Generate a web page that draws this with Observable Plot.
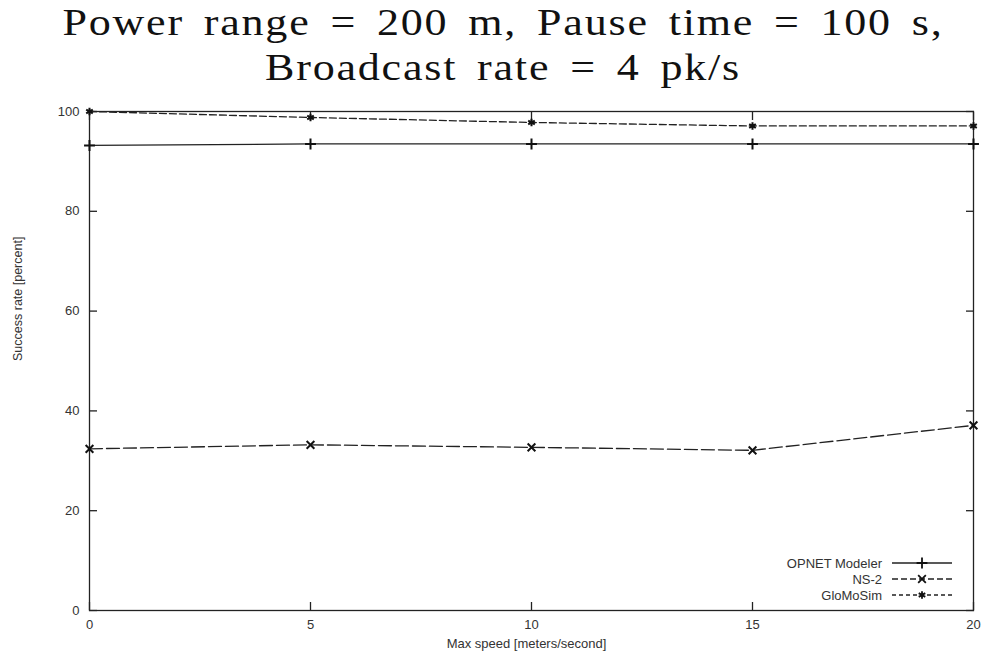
<!DOCTYPE html>
<html><head><meta charset="utf-8">
<script src="https://cdn.jsdelivr.net/npm/d3@7"></script>
<script src="https://cdn.jsdelivr.net/npm/@observablehq/plot@0.6"></script>
<style>
body{margin:0;background:#fff;}
#wrap{position:relative;width:989px;height:660px;overflow:hidden;}
#title{position:absolute;left:0;top:0;width:989px;box-sizing:border-box;padding-left:17px;text-align:center;white-space:nowrap;
  font-family:"Liberation Serif","DejaVu Serif",serif;font-size:37px;line-height:45px;color:#111;letter-spacing:1.5px;word-spacing:6px;
  transform:scaleX(1.19);transform-origin:503px 0;}
#chart{position:absolute;left:0;top:100px;}
#legend{position:absolute;left:0;top:0;pointer-events:none;}
</style></head>
<body><div id="wrap"><div id="title"></div><div id="chart"></div></div>
<script>
const titleLines = ["Power range = 200 m, Pause time = 100 s,", "Broadcast rate = 4 pk/s"];
const speeds = [0, 5, 10, 15, 20];
const opnet = [93.2, 93.5, 93.5, 93.5, 93.5];
const ns2 = [32.4, 33.2, 32.7, 32.1, 37.1];
const glomosim = [100, 98.8, 97.8, 97.1, 97.1];
const seriesNames = ["OPNET Modeler", "NS-2", "GloMoSim"];
const xTicks = [0, 5, 10, 15, 20];
const yTicks = [0, 20, 40, 60, 80, 100];
const xLabel = "Max speed [meters/second]";
const yLabel = "Success rate [percent]";

const titleDiv = document.getElementById("title");
titleLines.forEach((t, i) => { if (i) titleDiv.appendChild(document.createElement("br")); titleDiv.appendChild(document.createTextNode(t)); });

const seriesValues = [opnet, ns2, glomosim];
const symbols = ["plus", "times", "asterisk"];
const dashes = [null, "13,4", "7,3"];
const legendDashes = [null, "6,3", "4,3"];

const rows = [];
seriesNames.forEach((name, i) => speeds.forEach((s, j) => rows.push({series: name, x: s, y: seriesValues[i][j]})));

const ink = "#222";
const font = "Liberation Sans, Arial, sans-serif";
const marks = [
  Plot.frame({stroke: ink, strokeWidth: 1.3}),
  Plot.axisX({ticks: xTicks, anchor: "bottom", tickSize: 8, insetBottom: 8, tickFormat: () => "", label: null, stroke: ink, strokeWidth: 1.3}),
  Plot.axisX({ticks: xTicks, anchor: "top", tickSize: 8, insetTop: 8, tickFormat: () => "", label: null, stroke: ink, strokeWidth: 1.3}),
  Plot.axisY({ticks: yTicks, anchor: "left", tickSize: 8, insetLeft: 8, tickFormat: () => "", label: null, stroke: ink, strokeWidth: 1.3}),
  Plot.axisY({ticks: yTicks, anchor: "right", tickSize: 8, insetRight: 8, tickFormat: () => "", label: null, stroke: ink, strokeWidth: 1.3}),
  Plot.axisX({ticks: xTicks, anchor: "bottom", tickSize: 0, tickPadding: 9, label: null, fontSize: 13, fill: "#333"}),
  Plot.axisY({ticks: yTicks, anchor: "left", tickSize: 0, tickPadding: 10, label: null, fontSize: 13, fill: "#333"}),
  Plot.text([yLabel], {text: d => d, frameAnchor: "left", rotate: -90, dx: -72, fontSize: 12.5, fill: "#333"}),
  Plot.text([xLabel], {text: d => d, frameAnchor: "bottom", dy: 37, dx: -5, fontSize: 13, fill: "#333"}),
];
seriesNames.forEach((name, i) => {
  const data = rows.filter(r => r.series === name);
  marks.push(Plot.line(data, {x: "x", y: "y", stroke: ink, strokeWidth: 1.3, strokeDasharray: dashes[i]}));
  marks.push(Plot.dot(data, {x: "x", y: "y", symbol: symbols[i], r: 3.6, stroke: "#111", strokeWidth: 2}));
});

const chart = Plot.plot({
  width: 989, height: 560,
  marginLeft: 89, marginRight: 16, marginTop: 11, marginBottom: 50,
  style: {fontFamily: font, background: "#fff", color: ink},
  x: {domain: [0, 20], axis: null},
  y: {domain: [0, 100], axis: null},
  marks
});
document.getElementById("chart").appendChild(chart);

const leg = d3.select("#wrap").append("svg").attr("id", "legend").attr("width", 989).attr("height", 660);
seriesNames.forEach((name, i) => {
  const yy = 563 + i * 16;
  leg.append("text").attr("x", 882).attr("y", yy).attr("text-anchor", "end").attr("dominant-baseline", "central")
    .attr("font-family", font).attr("font-size", 13).attr("fill", "#333").text(name);
  leg.append("line").attr("x1", 892).attr("x2", 952).attr("y1", yy).attr("y2", yy)
    .attr("stroke", ink).attr("stroke-width", 1.3).attr("stroke-dasharray", legendDashes[i]);
  leg.append("path").attr("transform", `translate(922,${yy})`)
    .attr("d", d3.symbol(d3[{plus: "symbolPlus", times: "symbolTimes", asterisk: "symbolAsterisk"}[symbols[i]]], 40)())
    .attr("fill", "none").attr("stroke", "#111").attr("stroke-width", 1.8);
});
</script></body></html>
